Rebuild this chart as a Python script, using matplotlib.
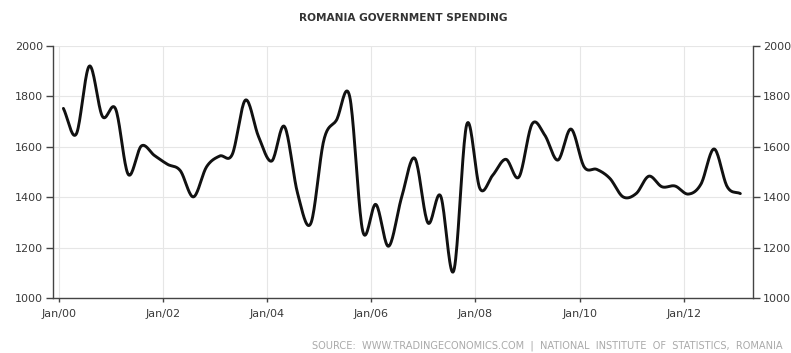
import numpy as np
import pandas as pd
import matplotlib
matplotlib.use("Agg")
import matplotlib.pyplot as plt
import matplotlib.dates as mdates

# quarterly government spending (RON million)
dates = pd.date_range("2000-02-01", periods=53, freq="3MS")
spending = [1752, 1650, 1920, 1720, 1750, 1490, 1603, 1565, 1530, 1505,
            1401, 1520, 1563, 1570, 1785, 1640, 1543, 1680, 1415, 1295,
            1626, 1706, 1800, 1265, 1371, 1205, 1400, 1554, 1298, 1405,
            1107, 1689, 1434, 1487, 1550, 1480, 1690, 1646, 1547, 1670,
            1520, 1510, 1474, 1401, 1414, 1483, 1441, 1444, 1412, 1452,
            1591, 1441, 1414]
yticks = [1000, 1200, 1400, 1600, 1800, 2000]
xtick_years = [2000, 2002, 2004, 2006, 2008, 2010, 2012]


def smooth(x, y, steps=20):
    # cardinal (Catmull-Rom) spline through the points, like a charting "spline" series
    x = np.asarray(x, float)
    y = np.asarray(y, float)
    n = len(x)
    mx = np.zeros(n)
    my = np.zeros(n)
    mx[1:-1] = (x[2:] - x[:-2]) / 2
    my[1:-1] = (y[2:] - y[:-2]) / 2
    mx[0], my[0] = x[1] - x[0], y[1] - y[0]
    mx[-1], my[-1] = x[-1] - x[-2], y[-1] - y[-2]
    xs, ys = [], []
    t = np.linspace(0, 1, steps, endpoint=False)
    h00 = 2 * t**3 - 3 * t**2 + 1
    h10 = t**3 - 2 * t**2 + t
    h01 = -2 * t**3 + 3 * t**2
    h11 = t**3 - t**2
    for i in range(n - 1):
        xs.append(h00 * x[i] + h10 * mx[i] + h01 * x[i + 1] + h11 * mx[i + 1])
        ys.append(h00 * y[i] + h10 * my[i] + h01 * y[i + 1] + h11 * my[i + 1])
    xs.append([x[-1]])
    ys.append([y[-1]])
    return np.concatenate(xs), np.concatenate(ys)


fig = plt.figure(figsize=(7.91, 3.53), dpi=100)
ax = fig.add_axes([0.067, 0.156, 0.885, 0.714])

xnum = mdates.date2num(dates)
sx, sy = smooth(xnum, spending)
ax.plot(sx, sy, color="#111111", lw=2.1, solid_capstyle="round", zorder=3)

ax.set_ylim(1000, 2000)
ax.set_xlim(mdates.datestr2num("1999-11-20"), mdates.datestr2num("2013-05-01"))
ax.set_yticks(yticks)
xt = [mdates.datestr2num(f"{y}-01-01") for y in xtick_years]
ax.set_xticks(xt)
ax.set_xticklabels([f"Jan/{y % 100:02d}" for y in xtick_years])

ax.grid(True, color="#e6e6e6", lw=0.8, zorder=0)
ax.spines["top"].set_visible(False)
for s in ["left", "right", "bottom"]:
    ax.spines[s].set_color("#444444")
    ax.spines[s].set_linewidth(1.0)

ax.tick_params(axis="y", which="both", left=True, right=True, labelleft=True,
               labelright=True, length=5, width=1, color="#444444",
               labelsize=8, labelcolor="#3a3a3a", pad=2)
ax.tick_params(axis="x", length=3, width=1, color="#444444",
               labelsize=8, labelcolor="#3a3a3a", pad=5)

fig.text(0.51, 0.948, "ROMANIA GOVERNMENT SPENDING", ha="center", va="center",
         fontsize=7.6, color="#333333", fontweight="bold")
fig.text(0.99, 0.005,
         "SOURCE:  WWW.TRADINGECONOMICS.COM  |  NATIONAL  INSTITUTE  OF  STATISTICS,  ROMANIA",
         ha="right", va="bottom", fontsize=7.1, color="#aaaaaa")

fig.savefig("out.png", dpi=100)
